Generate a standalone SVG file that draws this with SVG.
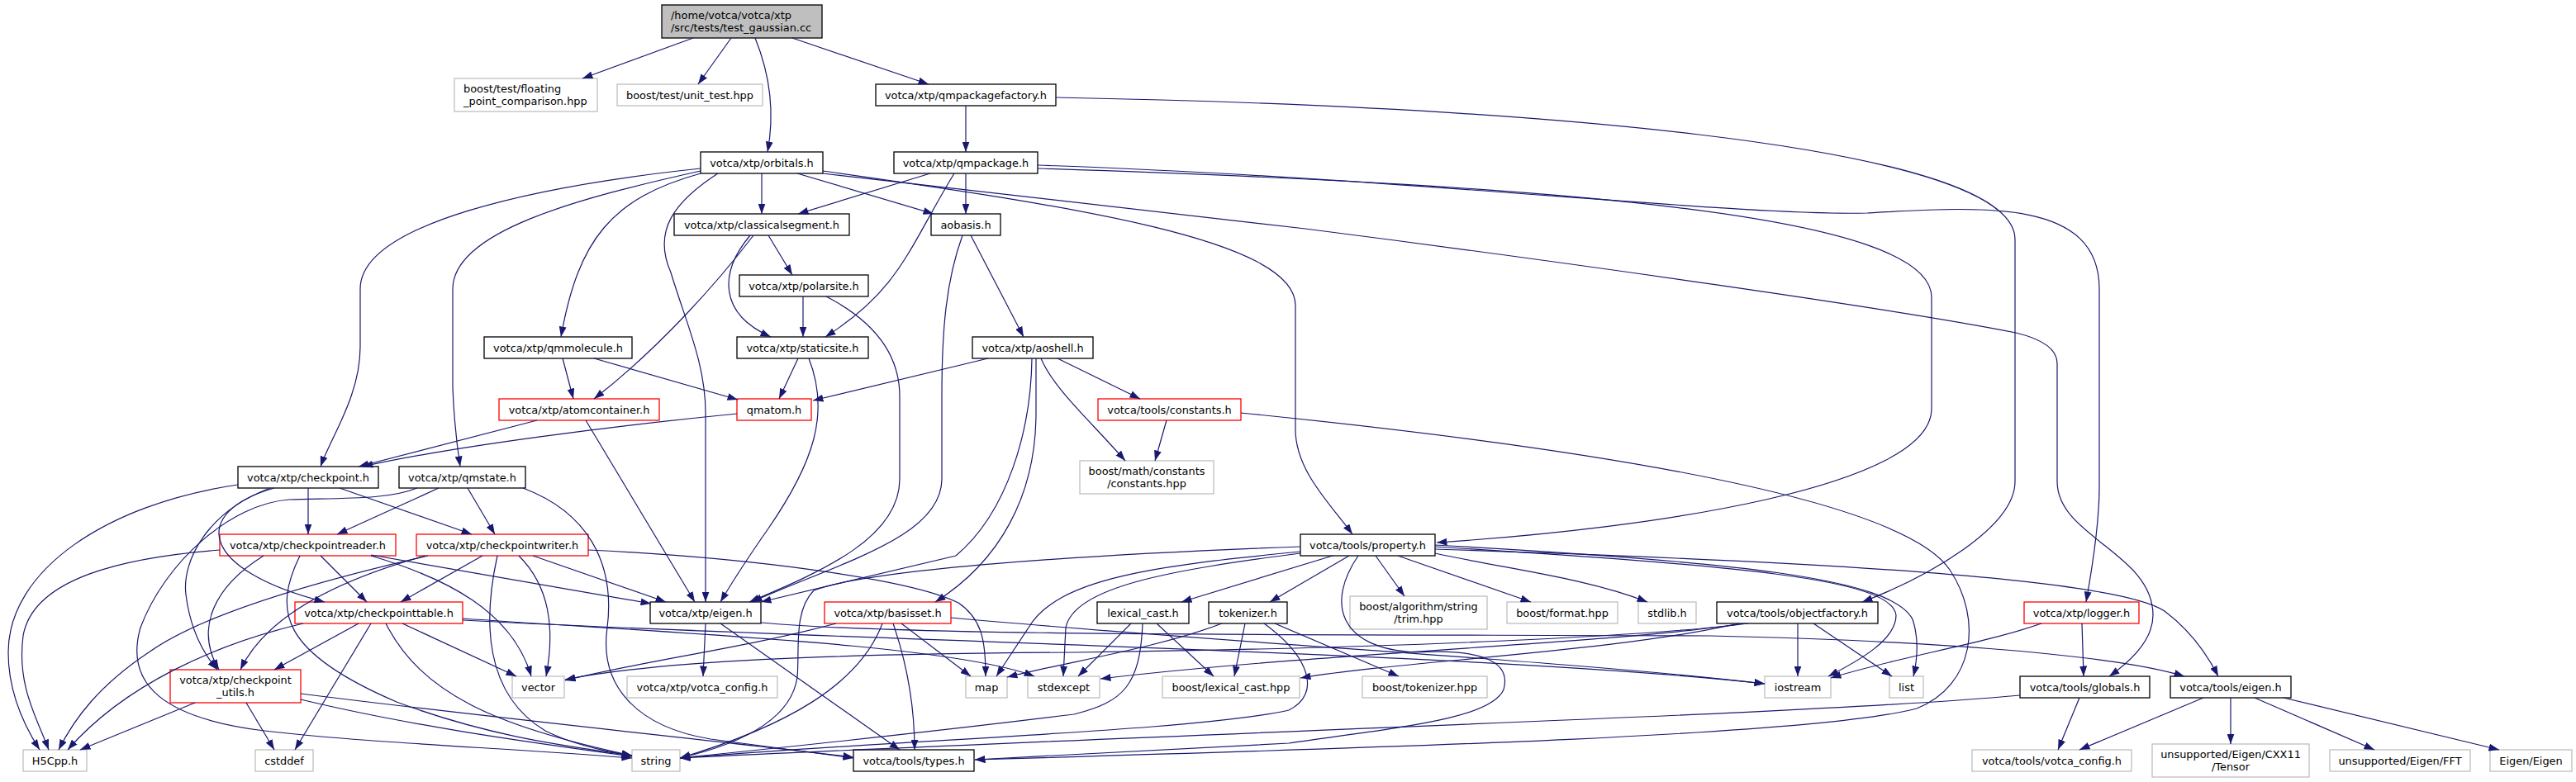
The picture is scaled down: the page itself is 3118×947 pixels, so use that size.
<svg xmlns="http://www.w3.org/2000/svg" width="3118" height="947" viewBox="0 0 3118 947">
<style>
.e{fill:none;stroke:#191970;stroke-width:1.2;marker-end:url(#a)}
rect{fill:#fff;stroke-width:1.3}
.k{stroke:#000}
.r{stroke:#ff0000}
.g{stroke:#bfbfbf}
.root{fill:#bfbfbf;stroke:#000}
text{font-family:"DejaVu Sans","Liberation Sans",sans-serif;font-size:12.9px;fill:#000}
.c{text-anchor:middle}
</style>
<defs>
<marker id="a" markerUnits="userSpaceOnUse" markerWidth="13" markerHeight="9" viewBox="0 0 13 9" refX="12.5" refY="4.5" orient="auto"><path d="M0,0 L12.5,4.5 L0,9 z" fill="#191970"/></marker>
</defs>
<rect x="0" y="0" width="3118" height="947" style="fill:#fff;stroke:none"/>
<g id="nodes">
<g id="n_test"><rect class="root" x="801" y="6" width="194" height="40"/><text x="812" y="22.5">/home/votca/votca/xtp</text><text x="812" y="37.5">/src/tests/test_gaussian.cc</text></g>
<g id="n_float"><rect class="g" x="550" y="95" width="173" height="40"/><text x="561" y="112">boost/test/floating</text><text x="561" y="127">_point_comparison.hpp</text></g>
<g id="n_unit"><rect class="g" x="747" y="102" width="176" height="26"/><text class="c" x="835" y="119.5">boost/test/unit_test.hpp</text></g>
<g id="n_qmpf"><rect class="k" x="1060" y="102" width="218" height="26"/><text class="c" x="1169" y="119.5">votca/xtp/qmpackagefactory.h</text></g>
<g id="n_orb"><rect class="k" x="848" y="184" width="148" height="26"/><text class="c" x="922" y="201.5">votca/xtp/orbitals.h</text></g>
<g id="n_qmp"><rect class="k" x="1082" y="184" width="174" height="26"/><text class="c" x="1169" y="201.5">votca/xtp/qmpackage.h</text></g>
<g id="n_cseg"><rect class="k" x="816" y="259" width="212" height="26"/><text class="c" x="922" y="276.5">votca/xtp/classicalsegment.h</text></g>
<g id="n_aob"><rect class="k" x="1127" y="259" width="84" height="26"/><text class="c" x="1169" y="276.5">aobasis.h</text></g>
<g id="n_polar"><rect class="k" x="895" y="333" width="156" height="26"/><text class="c" x="973" y="350.5">votca/xtp/polarsite.h</text></g>
<g id="n_static"><rect class="k" x="892" y="408" width="159" height="26"/><text class="c" x="971.5" y="425.5">votca/xtp/staticsite.h</text></g>
<g id="n_aoshell"><rect class="k" x="1177" y="408" width="146" height="26"/><text class="c" x="1250" y="425.5">votca/xtp/aoshell.h</text></g>
<g id="n_qmmol"><rect class="k" x="586" y="408" width="179" height="26"/><text class="c" x="675.5" y="425.5">votca/xtp/qmmolecule.h</text></g>
<g id="n_atomc"><rect class="r" x="604" y="483" width="194" height="26"/><text class="c" x="701" y="500.5">votca/xtp/atomcontainer.h</text></g>
<g id="n_qmatom"><rect class="r" x="892" y="483" width="90" height="26"/><text class="c" x="937" y="500.5">qmatom.h</text></g>
<g id="n_const"><rect class="r" x="1329" y="483" width="173" height="26"/><text class="c" x="1415.5" y="500.5">votca/tools/constants.h</text></g>
<g id="n_bmc"><rect class="g" x="1307" y="558" width="162" height="40"/><text class="c" x="1388" y="575">boost/math/constants</text><text class="c" x="1388" y="590">/constants.hpp</text></g>
<g id="n_cp"><rect class="k" x="288" y="565" width="170" height="26"/><text class="c" x="373" y="582.5">votca/xtp/checkpoint.h</text></g>
<g id="n_qmstate"><rect class="k" x="483" y="565" width="153" height="26"/><text class="c" x="559.5" y="582.5">votca/xtp/qmstate.h</text></g>
<g id="n_cpr"><rect class="r" x="266" y="647" width="213" height="26"/><text class="c" x="372.5" y="664.5">votca/xtp/checkpointreader.h</text></g>
<g id="n_cpw"><rect class="r" x="504" y="647" width="208" height="26"/><text class="c" x="608" y="664.5">votca/xtp/checkpointwriter.h</text></g>
<g id="n_prop"><rect class="k" x="1574" y="647" width="163" height="26"/><text class="c" x="1655.5" y="664.5">votca/tools/property.h</text></g>
<g id="n_cpt"><rect class="r" x="357" y="729" width="203" height="26"/><text class="c" x="458.5" y="746.5">votca/xtp/checkpointtable.h</text></g>
<g id="n_xeigen"><rect class="k" x="787" y="729" width="134" height="26"/><text class="c" x="854" y="746.5">votca/xtp/eigen.h</text></g>
<g id="n_basis"><rect class="r" x="998" y="729" width="153" height="26"/><text class="c" x="1074.5" y="746.5">votca/xtp/basisset.h</text></g>
<g id="n_lex"><rect class="k" x="1328" y="729" width="111" height="26"/><text class="c" x="1383.5" y="746.5">lexical_cast.h</text></g>
<g id="n_tok"><rect class="k" x="1463" y="729" width="95" height="26"/><text class="c" x="1510.5" y="746.5">tokenizer.h</text></g>
<g id="n_trim"><rect class="g" x="1634" y="722" width="166" height="40"/><text class="c" x="1717" y="739">boost/algorithm/string</text><text class="c" x="1717" y="754">/trim.hpp</text></g>
<g id="n_fmt"><rect class="g" x="1824" y="729" width="134" height="26"/><text class="c" x="1891" y="746.5">boost/format.hpp</text></g>
<g id="n_stdlib"><rect class="g" x="1983" y="729" width="70" height="26"/><text class="c" x="2018" y="746.5">stdlib.h</text></g>
<g id="n_objf"><rect class="k" x="2078" y="729" width="195" height="26"/><text class="c" x="2175.5" y="746.5">votca/tools/objectfactory.h</text></g>
<g id="n_logger"><rect class="r" x="2450" y="729" width="139" height="26"/><text class="c" x="2519.5" y="746.5">votca/xtp/logger.h</text></g>
<g id="n_cpu"><rect class="r" x="206" y="811" width="158" height="40"/><text class="c" x="285" y="828">votca/xtp/checkpoint</text><text class="c" x="285" y="843">_utils.h</text></g>
<g id="n_vector"><rect class="g" x="620" y="819" width="63" height="26"/><text class="c" x="651.5" y="836.5">vector</text></g>
<g id="n_xcfg"><rect class="g" x="759" y="819" width="182" height="26"/><text class="c" x="850" y="836.5">votca/xtp/votca_config.h</text></g>
<g id="n_map"><rect class="g" x="1169" y="819" width="50" height="26"/><text class="c" x="1194" y="836.5">map</text></g>
<g id="n_stdexcept"><rect class="g" x="1244" y="819" width="87" height="26"/><text class="c" x="1287.5" y="836.5">stdexcept</text></g>
<g id="n_blc"><rect class="g" x="1407" y="819" width="166" height="26"/><text class="c" x="1490" y="836.5">boost/lexical_cast.hpp</text></g>
<g id="n_btok"><rect class="g" x="1649" y="819" width="151" height="26"/><text class="c" x="1724.5" y="836.5">boost/tokenizer.hpp</text></g>
<g id="n_iostream"><rect class="g" x="2136" y="819" width="80" height="26"/><text class="c" x="2176" y="836.5">iostream</text></g>
<g id="n_list"><rect class="g" x="2287" y="819" width="41" height="26"/><text class="c" x="2307.5" y="836.5">list</text></g>
<g id="n_globals"><rect class="k" x="2445" y="819" width="157" height="26"/><text class="c" x="2523.5" y="836.5">votca/tools/globals.h</text></g>
<g id="n_teigen"><rect class="k" x="2627" y="819" width="146" height="26"/><text class="c" x="2700" y="836.5">votca/tools/eigen.h</text></g>
<g id="n_h5"><rect class="g" x="28" y="908" width="77" height="26"/><text class="c" x="66.5" y="925.5">H5Cpp.h</text></g>
<g id="n_cstddef"><rect class="g" x="309" y="908" width="70" height="26"/><text class="c" x="344" y="925.5">cstddef</text></g>
<g id="n_string"><rect class="g" x="765" y="908" width="58" height="26"/><text class="c" x="794" y="925.5">string</text></g>
<g id="n_types"><rect class="k" x="1033" y="908" width="146" height="26"/><text class="c" x="1106" y="925.5">votca/tools/types.h</text></g>
<g id="n_tcfg"><rect class="g" x="2387" y="908" width="193" height="26"/><text class="c" x="2483.5" y="925.5">votca/tools/votca_config.h</text></g>
<g id="n_tensor"><rect class="g" x="2605" y="901" width="190" height="40"/><text class="c" x="2700" y="917.5">unsupported/Eigen/CXX11</text><text class="c" x="2700" y="932.5">/Tensor</text></g>
<g id="n_fft"><rect class="g" x="2820" y="908" width="170" height="26"/><text class="c" x="2905" y="925.5">unsupported/Eigen/FFT</text></g>
<g id="n_eigen"><rect class="g" x="3014" y="908" width="99" height="26"/><text class="c" x="3063.5" y="925.5">Eigen/Eigen</text></g>
</g>
<g id="edges">
<path class="e" d="M839,46 L705,95"/>
<path class="e" d="M885,46 L845,102"/>
<path class="e" d="M914,46 Q942,115 929,184"/>
<path class="e" d="M959,46 L1124,102"/>
<path class="e" d="M1169,128 L1169,184"/>
<path class="e" d="M1278,118 C1800,128 2439,170 2439,290 L2439,583 C2439,640 2330,700 2254,729"/>
<path class="e" d="M1126,210 L966,259"/>
<path class="e" d="M1155,210 C1100,300 1090,350 999,408"/>
<path class="e" d="M1169,210 L1169,259"/>
<path class="e" d="M1256,200 C1700,215 2100,262 2260,258 C2400,250 2541,240 2541,350 L2541,590 Q2541,640 2525,729"/>
<path class="e" d="M1256,204 C1900,225 2338,260 2338,360 L2338,495 C2338,590 2000,640 1739,657"/>
<path class="e" d="M922,210 L922,259"/>
<path class="e" d="M965,210 L1130,259"/>
<path class="e" d="M869,210 C815,245 790,280 812,330 C830,390 854,440 854,500 L854,729"/>
<path class="e" d="M848,204 C650,225 436,270 436,350 L436,420 C436,480 400,530 388,565"/>
<path class="e" d="M848,207 C700,240 548,280 548,350 L548,470 Q550,520 557,565"/>
<path class="e" d="M848,210 C740,240 700,290 679,408"/>
<path class="e" d="M996,207 C1300,250 1568,290 1568,370 L1568,520 C1568,570 1610,610 1637,647"/>
<path class="e" d="M996,210 L1580,277 C1900,318 2300,375 2440,403 Q2490,415 2490,440 L2490,583 C2490,650 2606,670 2606,745 C2606,775 2580,800 2553,819"/>
<path class="e" d="M912,285 C870,340 800,420 719,483"/>
<path class="e" d="M908,285 C870,330 870,380 933,408"/>
<path class="e" d="M930,285 L959,333"/>
<path class="e" d="M972,359 L972,408"/>
<path class="e" d="M1000,359 C1060,390 1089,430 1089,480 L1089,580 C1089,650 1000,690 907,729"/>
<path class="e" d="M966,434 L943,483"/>
<path class="e" d="M979,434 C1005,500 985,560 930,640 Q895,690 872,729"/>
<path class="e" d="M1175,285 L1239,408"/>
<path class="e" d="M1165,285 C1145,340 1140,400 1140,480 L1140,580 C1140,650 1020,680 910,729"/>
<path class="e" d="M1196,434 L984,485"/>
<path class="e" d="M1254,434 L1254,500 C1254,600 1210,680 1132,729"/>
<path class="e" d="M1249,434 C1248,520 1220,620 1157,673 L921,729"/>
<path class="e" d="M1260,434 C1275,470 1320,510 1362,558"/>
<path class="e" d="M1280,434 L1380,483"/>
<path class="e" d="M681,434 L694,483"/>
<path class="e" d="M719,434 L893,484"/>
<path class="e" d="M650,509 L434,565"/>
<path class="e" d="M709,509 L841,729"/>
<path class="e" d="M892,501 C750,515 550,540 439,565"/>
<path class="e" d="M1412,509 L1398,558"/>
<path class="e" d="M1502,500 C1900,540 2300,600 2360,690 C2400,750 2390,830 2320,858 C2200,890 1700,905 1180,920"/>
<path class="e" d="M288,587 C130,610 10,690 10,790 C10,840 30,880 48,908"/>
<path class="e" d="M373,591 L373,647"/>
<path class="e" d="M411,591 L571,647"/>
<path class="e" d="M332,591 C230,620 240,690 393,729"/>
<path class="e" d="M327,591 C250,620 220,680 225,720 C230,760 245,790 263,811"/>
<path class="e" d="M531,591 L408,647"/>
<path class="e" d="M566,591 L599,647"/>
<path class="e" d="M505,591 C470,605 420,603 350,605 C280,610 200,680 170,760 C150,830 200,870 320,885 C450,900 600,905 765,918"/>
<path class="e" d="M633,591 C710,620 745,680 735,760 C725,830 770,880 860,895 L1033,918"/>
<path class="e" d="M266,666 C150,675 40,700 28,770 C20,830 45,870 59,908"/>
<path class="e" d="M319,673 C260,710 235,760 265,811"/>
<path class="e" d="M388,673 L444,729"/>
<path class="e" d="M449,673 C540,700 620,740 643,819"/>
<path class="e" d="M363,673 C330,740 340,790 480,850 C600,895 700,905 765,915"/>
<path class="e" d="M449,672 L788,731"/>
<path class="e" d="M518,673 C400,700 250,740 180,790 C120,830 90,870 71,908"/>
<path class="e" d="M515,673 C400,705 320,750 291,811"/>
<path class="e" d="M584,673 L485,729"/>
<path class="e" d="M628,673 C665,710 672,760 661,819"/>
<path class="e" d="M602,673 C585,750 585,840 660,885 Q700,905 765,915"/>
<path class="e" d="M645,673 L806,729"/>
<path class="e" d="M712,666 C900,675 1100,700 1160,730 C1190,750 1193,780 1193,819"/>
<path class="e" d="M367,755 C260,780 150,830 82,908"/>
<path class="e" d="M434,755 L332,811"/>
<path class="e" d="M449,755 L357,908"/>
<path class="e" d="M467,755 C510,840 600,880 765,915"/>
<path class="e" d="M487,755 L625,819"/>
<path class="e" d="M560,749 C800,766 1150,780 1252,819"/>
<path class="e" d="M560,751 C1000,775 1800,790 2136,828"/>
<path class="e" d="M236,851 L97,908"/>
<path class="e" d="M298,851 L332,908"/>
<path class="e" d="M364,847 C500,880 650,900 765,916"/>
<path class="e" d="M364,840 C600,870 850,895 1033,917"/>
<path class="e" d="M854,755 L851,819"/>
<path class="e" d="M872,755 L1089,908"/>
<path class="e" d="M921,754 C1100,770 1500,768 2070,770 C2300,775 2550,790 2644,819"/>
<path class="e" d="M1091,755 L1175,819"/>
<path class="e" d="M1081,755 C1100,810 1107,860 1107,908"/>
<path class="e" d="M1068,755 C1040,830 950,880 823,918"/>
<path class="e" d="M1012,755 C900,785 780,800 684,824"/>
<path class="e" d="M1151,748 C1500,780 1900,800 2136,828"/>
<path class="e" d="M1369,755 L1305,819"/>
<path class="e" d="M1400,755 L1469,819"/>
<path class="e" d="M1383,755 C1380,830 1360,850 1300,865 C1100,890 900,910 823,918"/>
<path class="e" d="M1479,755 C1400,785 1300,800 1219,820"/>
<path class="e" d="M1507,755 L1494,819"/>
<path class="e" d="M1543,755 L1693,819"/>
<path class="e" d="M1530,755 C1585,795 1600,840 1560,860 C1450,885 1100,895 823,918"/>
<path class="e" d="M1613,673 L1430,729"/>
<path class="e" d="M1633,673 L1537,729"/>
<path class="e" d="M1665,673 L1700,722"/>
<path class="e" d="M1692,673 L1853,729"/>
<path class="e" d="M1737,670 C1830,690 1920,700 1994,729"/>
<path class="e" d="M1737,660 C2100,680 2290,700 2315,750 Q2325,780 2316,819"/>
<path class="e" d="M1737,662 C2100,685 2290,700 2295,745 C2295,775 2250,800 2213,819"/>
<path class="e" d="M1737,665 C2200,680 2560,700 2620,740 Q2660,770 2685,819"/>
<path class="e" d="M1644,673 C1605,730 1620,785 1713,790 C1790,785 1830,800 1820,835 C1805,870 1700,880 1560,900 L1180,920"/>
<path class="e" d="M1574,668 C1400,685 1280,700 1245,760 L1206,819"/>
<path class="e" d="M1574,670 C1420,690 1300,710 1290,760 L1287,819"/>
<path class="e" d="M1574,662 C1300,672 1050,690 985,715 C960,740 968,790 965,820 C958,870 900,900 823,918"/>
<path class="e" d="M2176,755 L2176,819"/>
<path class="e" d="M2195,755 L2290,819"/>
<path class="e" d="M2116,755 C2000,770 1700,785 1300,790 C1000,792 800,800 684,823"/>
<path class="e" d="M2110,755 C1950,780 1600,790 1332,822"/>
<path class="e" d="M2105,755 C1950,790 1700,800 1574,821"/>
<path class="e" d="M2471,755 C2400,780 2300,795 2216,821"/>
<path class="e" d="M2520,755 L2522,819"/>
<path class="e" d="M2445,842 C2200,865 1500,885 823,918"/>
<path class="e" d="M2517,845 L2491,908"/>
<path class="e" d="M2667,845 L2517,908"/>
<path class="e" d="M2700,845 L2700,901"/>
<path class="e" d="M2729,845 L2874,908"/>
<path class="e" d="M2764,845 L3025,908"/>
</g>
</svg>
